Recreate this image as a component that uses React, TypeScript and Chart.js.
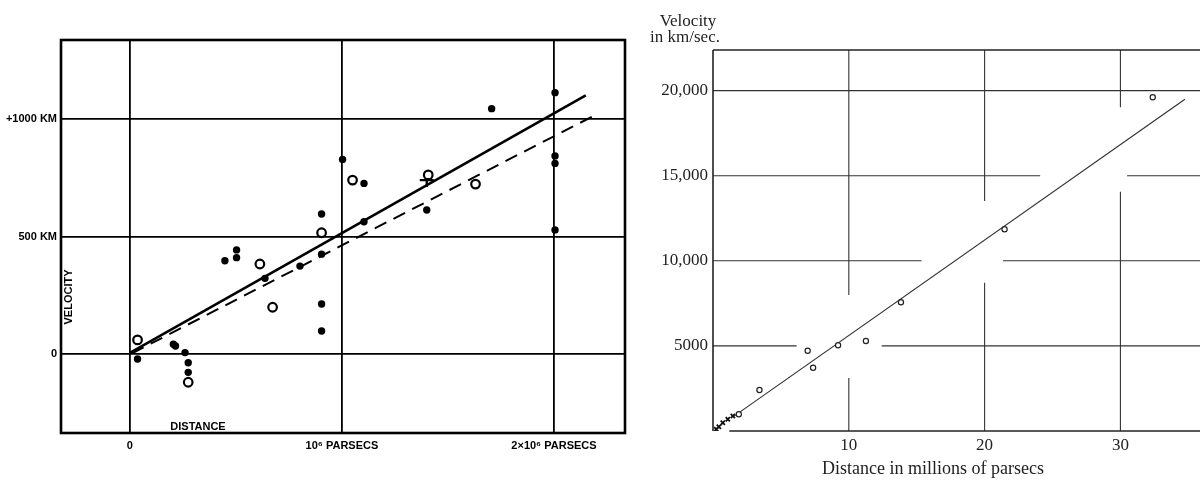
import React, { useEffect, useRef } from "react";
import { Chart, registerables } from "chart.js";

Chart.register(...registerables);

// ---------- Left panel: Hubble (1929) ----------
const L_FILLED_DIST = [0.036, 0.205, 0.215, 0.26, 0.275, 0.275, 0.448, 0.503, 0.503, 0.637, 0.802, 0.904, 0.904, 0.904, 0.904, 1.003, 1.104, 1.104, 1.40, 1.706, 2.005, 2.005, 2.005, 2.005];
const L_FILLED_VEL = [-21, 42, 34, 6, -37, -78, 397, 443, 410, 322, 374, 596, 425, 213, 98, 828, 726, 563, 613, 1044, 1112, 843, 811, 528];
const L_OPEN_DIST = [0.036, 0.275, 0.613, 0.673, 0.904, 1.05, 1.407, 1.63];
const L_OPEN_VEL = [60, -120, 383, 199, 516, 740, 762, 723];
const L_CROSS_DIST = [1.40];
const L_CROSS_VEL = [740];
const L_SOLID_DIST = [0.0, 2.15];
const L_SOLID_VEL = [5, 1100];
const L_DASH_DIST = [0.01, 2.21];
const L_DASH_VEL = [3, 1024];
const L_X_TICKS = [0, 1, 2];
const L_X_LABELS = ["0", "10⁶ PARSECS", "2×10⁶ PARSECS"];
const L_Y_TICKS = [0, 500, 1000];
const L_Y_LABELS = ["0", "500 KM", "+1000 KM"];

// ---------- Right panel: Hubble & Humason (1931) ----------
const R_OPEN_DIST = [1.9, 3.42, 6.97, 7.37, 9.21, 11.26, 13.84, 21.47, 32.38];
const R_OPEN_VEL = [981, 2409, 4718, 3719, 5035, 5288, 7562, 11851, 19606];
const R_CROSS_DIST = [0.24, 0.43, 0.72, 1.09, 1.46];
const R_CROSS_VEL = [100, 253, 488, 687, 881];
const R_LINE_DIST = [1.5, 34.75];
const R_LINE_VEL = [845, 19490];
const R_X_TICKS = [10, 20, 30];
const R_X_LABELS = ["10", "20", "30"];
const R_Y_TICKS = [5000, 10000, 15000, 20000];
const R_Y_LABELS = ["5000", "10,000", "15,000", "20,000"];
// gaps in the printed grid lines (where the fitted line passes)
const R_HGAP: (number[] | null)[] = [[6.16, 12.42], [15.36, 21.36], [24.09, 30.49], null];
const R_VGAP: (number[] | null)[] = [[3114, 7990], [8713, 13513], [14060, 19019]];

const pts = (xs: number[], ys: number[]) => xs.map((x, i) => ({ x, y: ys[i] }));

const SANS = "'Liberation Sans', Arial, sans-serif";
const SERIF = "'Liberation Serif', 'DejaVu Serif', serif";

const noPad = (s: any) => {
  s.paddingLeft = 0;
  s.paddingRight = 0;
  s.paddingTop = 0;
  s.paddingBottom = 0;
};

export default function App() {
  const leftRef = useRef<HTMLCanvasElement | null>(null);
  const rightRef = useRef<HTMLCanvasElement | null>(null);

  useEffect(() => {
    const leftFrame = {
      id: "leftFrame",
      afterDatasetsDraw(chart: any) {
        const { ctx, chartArea: a } = chart;
        ctx.save();
        ctx.strokeStyle = "#000";
        ctx.lineWidth = 2.6;
        ctx.strokeRect(a.left, a.top, a.right - a.left, a.bottom - a.top);
        ctx.fillStyle = "#000";
        ctx.font = `bold 11px ${SANS}`;
        ctx.textAlign = "center";
        ctx.textBaseline = "alphabetic";
        ctx.fillText("DISTANCE", 198, 430);
        ctx.translate(72, 297);
        ctx.rotate(-Math.PI / 2);
        ctx.fillText("VELOCITY", 0, 0);
        ctx.restore();
      },
    };

    const leftChart = new Chart(leftRef.current as HTMLCanvasElement, {
      type: "scatter",
      data: {
        datasets: [
          {
            data: pts(L_OPEN_DIST, L_OPEN_VEL),
            pointRadius: 4.3,
            pointBackgroundColor: "#fff",
            pointBorderColor: "#000",
            pointBorderWidth: 2.2,
          },
          {
            data: pts(L_FILLED_DIST, L_FILLED_VEL),
            pointRadius: 3.7,
            pointBackgroundColor: "#000",
            pointBorderColor: "#000",
            pointBorderWidth: 0,
          },
          {
            data: pts(L_CROSS_DIST, L_CROSS_VEL),
            pointStyle: "cross",
            pointRadius: 7,
            pointBorderColor: "#000",
            pointBorderWidth: 2.4,
          },
          {
            data: pts(L_SOLID_DIST, L_SOLID_VEL),
            showLine: true,
            pointRadius: 0,
            borderColor: "#000",
            borderWidth: 2.6,
          },
          {
            data: pts(L_DASH_DIST, L_DASH_VEL),
            showLine: true,
            pointRadius: 0,
            borderColor: "#000",
            borderWidth: 2,
            borderDash: [13, 8],
          },
        ],
      },
      options: {
        animation: false,
        responsive: false,
        devicePixelRatio: 1,
        layout: { autoPadding: false, padding: { top: 40, right: 15, left: 0, bottom: 0 } },
        plugins: { legend: { display: false }, tooltip: { enabled: false }, title: { display: false } },
        scales: {
          x: {
            type: "linear",
            min: -0.325,
            max: 2.335,
            afterBuildTicks: (s: any) => {
              s.ticks = L_X_TICKS.map((v) => ({ value: v }));
            },
            afterFit: (s: any) => {
              s.height = 49;
              noPad(s);
            },
            border: { display: false },
            grid: { color: "#000", lineWidth: 1.8, drawTicks: false },
            ticks: {
              autoSkip: false,
              maxRotation: 0,
              padding: 6,
              color: "#000",
              font: { family: SANS, size: 11, weight: "bold" },
              callback: (v: any) => L_X_LABELS[L_X_TICKS.indexOf(Number(v))] ?? "",
            },
          },
          y: {
            type: "linear",
            min: -336,
            max: 1336,
            afterBuildTicks: (s: any) => {
              s.ticks = L_Y_TICKS.map((v) => ({ value: v }));
            },
            afterFit: (s: any) => {
              s.width = 61;
              noPad(s);
            },
            border: { display: false },
            grid: { color: "#000", lineWidth: 1.8, drawTicks: false },
            ticks: {
              autoSkip: false,
              padding: 4,
              color: "#000",
              font: { family: SANS, size: 11, weight: "bold" },
              callback: (v: any) => L_Y_LABELS[L_Y_TICKS.indexOf(Number(v))] ?? "",
            },
          },
        },
      } as any,
      plugins: [leftFrame],
    });

    const rightDecor = {
      id: "rightDecor",
      beforeDatasetsDraw(chart: any) {
        const { ctx, chartArea: a, scales } = chart;
        const xs = scales.x;
        const ys = scales.y;
        ctx.save();
        ctx.strokeStyle = "#333";
        ctx.lineWidth = 1.1;
        const seg = (x1: number, y1: number, x2: number, y2: number) => {
          ctx.beginPath();
          ctx.moveTo(x1, y1);
          ctx.lineTo(x2, y2);
          ctx.stroke();
        };
        R_Y_TICKS.forEach((v, i) => {
          const y = ys.getPixelForValue(v);
          const g = R_HGAP[i];
          if (!g) seg(a.left, y, a.right, y);
          else {
            seg(a.left, y, xs.getPixelForValue(g[0]), y);
            seg(xs.getPixelForValue(g[1]), y, a.right, y);
          }
        });
        R_X_TICKS.forEach((v, i) => {
          const x = xs.getPixelForValue(v);
          const g = R_VGAP[i];
          if (!g) seg(x, a.top, x, a.bottom);
          else {
            seg(x, a.top, x, ys.getPixelForValue(g[1]));
            seg(x, ys.getPixelForValue(g[0]), x, a.bottom);
          }
        });
        // frame
        ctx.lineWidth = 1.6;
        ctx.strokeStyle = "#222";
        seg(a.left, a.top, a.right, a.top);
        seg(a.left, a.top, a.left, a.bottom);
        seg(xs.getPixelForValue(1.2), a.bottom, a.right, a.bottom);
        // titles
        ctx.fillStyle = "#222";
        ctx.textAlign = "center";
        ctx.textBaseline = "alphabetic";
        ctx.font = `17px ${SERIF}`;
        ctx.fillText("Velocity", 48, 26);
        ctx.fillText("in km/sec.", 45, 42);
        ctx.font = `18px ${SERIF}`;
        ctx.fillText("Distance in millions of parsecs", 293, 474);
        ctx.restore();
      },
    };

    const rightChart = new Chart(rightRef.current as HTMLCanvasElement, {
      type: "scatter",
      data: {
        datasets: [
          {
            data: pts(R_OPEN_DIST, R_OPEN_VEL),
            pointRadius: 2.6,
            pointBackgroundColor: "#fff",
            pointBorderColor: "#222",
            pointBorderWidth: 1.2,
          },
          {
            data: pts(R_CROSS_DIST, R_CROSS_VEL),
            pointStyle: "crossRot",
            pointRadius: 3,
            pointBorderColor: "#111",
            pointBorderWidth: 1.8,
          },
          {
            data: pts(R_LINE_DIST, R_LINE_VEL),
            showLine: true,
            pointRadius: 0,
            borderColor: "#333",
            borderWidth: 1.2,
          },
        ],
      },
      options: {
        animation: false,
        responsive: false,
        devicePixelRatio: 1,
        layout: { autoPadding: false, padding: { top: 50, right: 0, left: 0, bottom: 0 } },
        plugins: { legend: { display: false }, tooltip: { enabled: false }, title: { display: false } },
        scales: {
          x: {
            type: "linear",
            min: 0,
            max: 35.86,
            afterBuildTicks: (s: any) => {
              s.ticks = R_X_TICKS.map((v) => ({ value: v }));
            },
            afterFit: (s: any) => {
              s.height = 51;
              noPad(s);
            },
            border: { display: false },
            grid: { display: false, drawTicks: false },
            ticks: {
              autoSkip: false,
              maxRotation: 0,
              padding: 4,
              color: "#222",
              font: { family: SERIF, size: 17 },
              callback: (v: any) => R_X_LABELS[R_X_TICKS.indexOf(Number(v))] ?? "",
            },
          },
          y: {
            type: "linear",
            min: 0,
            max: 22385,
            afterBuildTicks: (s: any) => {
              s.ticks = R_Y_TICKS.map((v) => ({ value: v }));
            },
            afterFit: (s: any) => {
              s.width = 73;
              noPad(s);
            },
            border: { display: false },
            grid: { display: false, drawTicks: false },
            ticks: {
              autoSkip: false,
              padding: 5,
              color: "#222",
              font: { family: SERIF, size: 17 },
              callback: (v: any) => R_Y_LABELS[R_Y_TICKS.indexOf(Number(v))] ?? "",
            },
          },
        },
      } as any,
      plugins: [rightDecor],
    });

    return () => {
      leftChart.destroy();
      rightChart.destroy();
    };
  }, []);

  return (
    <div
      style={{
        position: "fixed",
        left: 0,
        top: 0,
        width: 1200,
        height: 482,
        background: "#fff",
        overflow: "hidden",
      }}
    >
      <canvas
        ref={leftRef}
        width={640}
        height={482}
        style={{ position: "absolute", left: 0, top: 0, width: 640, height: 482 }}
      />
      <canvas
        ref={rightRef}
        width={560}
        height={482}
        style={{ position: "absolute", left: 640, top: 0, width: 560, height: 482 }}
      />
    </div>
  );
}
